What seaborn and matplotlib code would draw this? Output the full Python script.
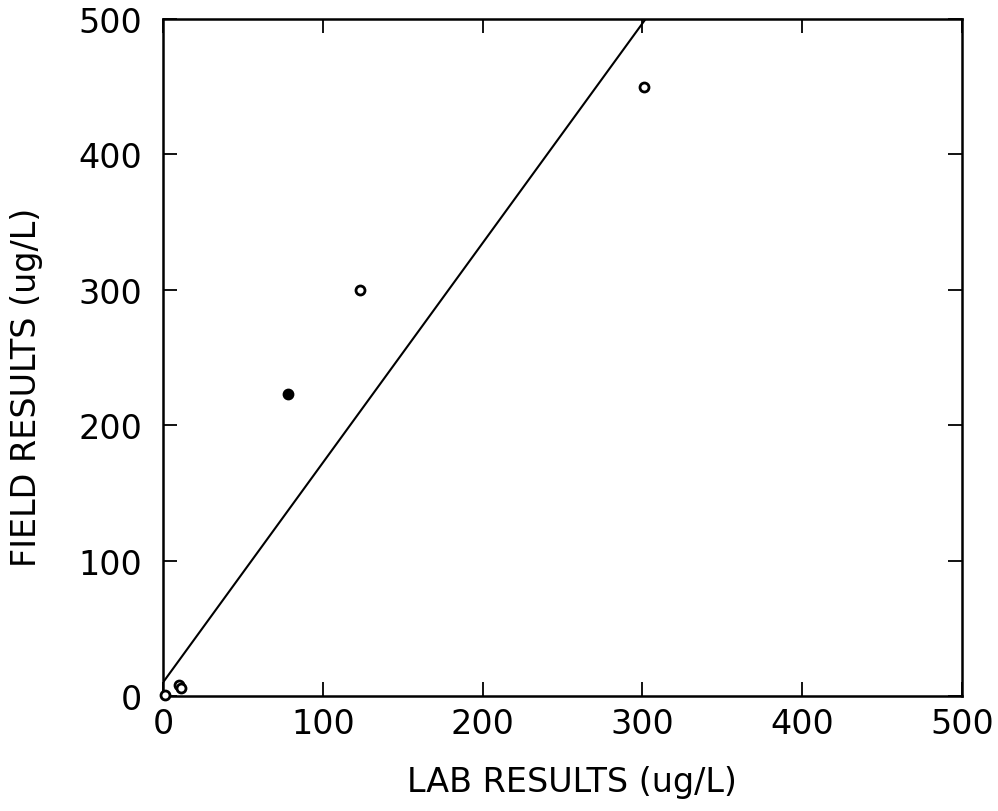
import matplotlib
matplotlib.use("Agg")
import matplotlib.pyplot as plt
import seaborn as sns
import pandas as pd

lab = [1, 10, 11, 123, 301]
field = [1, 8, 6, 300, 450]
lab_filled = [78]
field_filled = [223]
line_x = [0, 302]
line_y = [10, 500]
ticks = [0, 100, 200, 300, 400, 500]

sns.set_theme(style="ticks")
plt.rcParams['font.family'] = ['DejaVu Sans']

fig = plt.figure(figsize=(9.98, 8.12), dpi=100)
ax = fig.add_axes([0.1633, 0.1416, 0.8007, 0.8338])

pts = pd.DataFrame({"lab": lab, "field": field})
pts_f = pd.DataFrame({"lab": lab_filled, "field": field_filled})
ln = pd.DataFrame({"x": line_x, "y": line_y})

sns.lineplot(data=ln, x="x", y="y", ax=ax, color="black", linewidth=1.5)
sns.scatterplot(data=pts, x="lab", y="field", ax=ax, marker="o", s=42,
                facecolor="white", edgecolor="black", linewidth=2.0, clip_on=False, zorder=5)
sns.scatterplot(data=pts_f, x="lab", y="field", ax=ax, marker="o", s=42,
                facecolor="black", edgecolor="black", linewidth=2.0, clip_on=False, zorder=5)

ax.set_xlim(0, 500)
ax.set_ylim(0, 500)
ax.set_xticks(ticks)
ax.set_yticks(ticks)
ax.set_xticklabels([str(t) for t in ticks])
ax.set_yticklabels([str(t) for t in ticks])
ax.tick_params(direction="in", length=10, width=1.3, top=True, right=True,
               labelsize=24, colors="black")
ax.tick_params(axis="y", pad=15)
ax.tick_params(axis="x", pad=8)
for s in ax.spines.values():
    s.set_linewidth(1.8)
    s.set_color("black")

ax.set_xlabel("LAB RESULTS (ug/L)", fontsize=24, color="black")
ax.set_ylabel("FIELD RESULTS (ug/L)", fontsize=24, color="black")
ax.xaxis.set_label_coords(0.512, -0.102)
ax.yaxis.set_label_coords(-0.150, 0.457)

fig.savefig("out.png", dpi=100, facecolor="white")
